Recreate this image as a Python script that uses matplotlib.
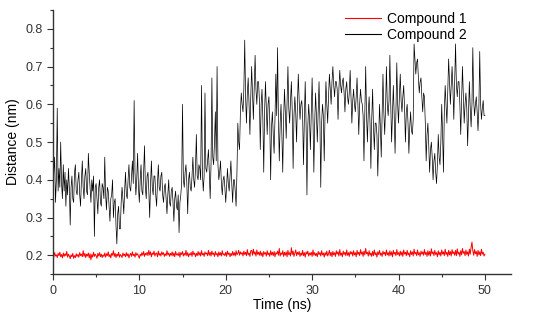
import numpy as np
import matplotlib
matplotlib.use("Agg")
from matplotlib import pyplot as plt
from matplotlib.ticker import MultipleLocator

# distance traces, every 0.1 ns (0 .. 50 ns)
dt = 0.1

compound1 = [
    0.203, 0.195, 0.207, 0.198, 0.201, 0.194, 0.205, 0.199, 0.208, 0.196,
    0.202, 0.193, 0.206, 0.197, 0.204, 0.199, 0.210, 0.195, 0.203, 0.198,
    0.191, 0.201, 0.196, 0.205, 0.192, 0.199, 0.194, 0.204, 0.197, 0.202,
    0.195, 0.207, 0.199, 0.203, 0.196, 0.212, 0.197, 0.205, 0.194, 0.203,
    0.198, 0.206, 0.193, 0.204, 0.188, 0.202, 0.195, 0.208, 0.197, 0.203,
    0.199, 0.192, 0.205, 0.198, 0.207, 0.196, 0.203, 0.194, 0.201, 0.197,
    0.206, 0.195, 0.204, 0.199, 0.209, 0.196, 0.202, 0.193, 0.205, 0.200,
    0.212, 0.197, 0.205, 0.194, 0.203, 0.198, 0.208, 0.195, 0.202, 0.199,
    0.194, 0.206, 0.199, 0.203, 0.196, 0.207, 0.198, 0.204, 0.193, 0.201,
    0.205, 0.197, 0.209, 0.199, 0.203, 0.195, 0.207, 0.200, 0.204, 0.198,
    0.192, 0.203, 0.198, 0.207, 0.200, 0.210, 0.197, 0.205, 0.201, 0.208,
    0.199, 0.213, 0.201, 0.209, 0.196, 0.206, 0.202, 0.211, 0.198, 0.205,
    0.206, 0.196, 0.211, 0.200, 0.205, 0.198, 0.209, 0.202, 0.207, 0.197,
    0.204, 0.199, 0.212, 0.201, 0.206, 0.197, 0.205, 0.200, 0.209, 0.198,
    0.206, 0.196, 0.210, 0.201, 0.204, 0.199, 0.208, 0.195, 0.207, 0.202,
    0.210, 0.198, 0.205, 0.200, 0.213, 0.199, 0.207, 0.196, 0.204, 0.201,
    0.208, 0.197, 0.211, 0.202, 0.206, 0.196, 0.205, 0.199, 0.210, 0.200,
    0.207, 0.198, 0.212, 0.201, 0.205, 0.197, 0.209, 0.203, 0.206, 0.199,
    0.213, 0.200, 0.208, 0.198, 0.211, 0.202, 0.206, 0.197, 0.210, 0.201,
    0.205, 0.196, 0.209, 0.200, 0.207, 0.198, 0.212, 0.201, 0.204, 0.199,
    0.208, 0.197, 0.211, 0.202, 0.206, 0.196, 0.205, 0.199, 0.210, 0.200,
    0.207, 0.198, 0.212, 0.201, 0.205, 0.213, 0.200, 0.209, 0.203, 0.207,
    0.198, 0.211, 0.202, 0.208, 0.199, 0.215, 0.201, 0.206, 0.197, 0.212,
    0.213, 0.200, 0.216, 0.203, 0.209, 0.198, 0.214, 0.202, 0.208, 0.200,
    0.211, 0.199, 0.207, 0.196, 0.210, 0.203, 0.207, 0.198, 0.212, 0.201,
    0.206, 0.197, 0.212, 0.201, 0.208, 0.199, 0.210, 0.196, 0.207, 0.203,
    0.211, 0.200, 0.218, 0.198, 0.206, 0.202, 0.212, 0.197, 0.208, 0.200,
    0.209, 0.196, 0.213, 0.201, 0.207, 0.198, 0.220, 0.202, 0.211, 0.197,
    0.205, 0.214, 0.199, 0.208, 0.202, 0.210, 0.197, 0.206, 0.200, 0.213,
    0.199, 0.207, 0.195, 0.209, 0.203, 0.211, 0.198, 0.206, 0.201, 0.208,
    0.197, 0.214, 0.200, 0.207, 0.199, 0.205, 0.196, 0.210, 0.202, 0.207,
    0.198, 0.212, 0.201, 0.206, 0.195, 0.207, 0.200, 0.211, 0.198, 0.204,
    0.213, 0.199, 0.208, 0.196, 0.210, 0.201, 0.207, 0.197, 0.212, 0.203,
    0.209, 0.198, 0.215, 0.200, 0.206, 0.196, 0.211, 0.202, 0.208, 0.199,
    0.214, 0.200, 0.207, 0.197, 0.210, 0.203, 0.209, 0.198, 0.212, 0.201,
    0.207, 0.196, 0.213, 0.202, 0.208, 0.199, 0.215, 0.203, 0.209, 0.197,
    0.211, 0.201, 0.218, 0.204, 0.208, 0.198, 0.212, 0.200, 0.206, 0.197,
    0.210, 0.199, 0.214, 0.201, 0.207, 0.195, 0.209, 0.202, 0.213, 0.200,
    0.206, 0.197, 0.211, 0.203, 0.208, 0.199, 0.214, 0.201, 0.207, 0.198,
    0.212, 0.200, 0.209, 0.196, 0.213, 0.203, 0.208, 0.199, 0.215, 0.202,
    0.207, 0.198, 0.211, 0.200, 0.209, 0.197, 0.214, 0.203, 0.208, 0.199,
    0.213, 0.201, 0.206, 0.196, 0.212, 0.202, 0.209, 0.198, 0.216, 0.203,
    0.208, 0.199, 0.214, 0.201, 0.207, 0.197, 0.211, 0.203, 0.209, 0.200,
    0.215, 0.202, 0.208, 0.197, 0.212, 0.200, 0.210, 0.198, 0.217, 0.204,
    0.209, 0.199, 0.213, 0.202, 0.207, 0.196, 0.212, 0.201, 0.208, 0.198,
    0.214, 0.203, 0.209, 0.199, 0.216, 0.202, 0.208, 0.197, 0.213, 0.201,
    0.210, 0.198, 0.215, 0.204, 0.209, 0.200, 0.213, 0.199, 0.217, 0.203,
    0.208, 0.197, 0.212, 0.201, 0.218, 0.205, 0.210, 0.199, 0.214, 0.202,
    0.209, 0.198, 0.216, 0.203, 0.221, 0.235, 0.212, 0.200, 0.215, 0.204,
    0.210, 0.197, 0.213, 0.201, 0.209, 0.199, 0.216, 0.203, 0.208, 0.198,
    0.203,
]

compound2 = [
    0.36, 0.42, 0.46, 0.34, 0.40, 0.59, 0.37, 0.43, 0.38, 0.50,
    0.39, 0.35, 0.44, 0.37, 0.42, 0.33, 0.40, 0.36, 0.43, 0.38,
    0.28, 0.38, 0.41, 0.35, 0.34, 0.42, 0.44, 0.37, 0.36, 0.40,
    0.42, 0.36, 0.33, 0.40, 0.45, 0.38, 0.35, 0.41, 0.43, 0.37,
    0.36, 0.47, 0.42, 0.38, 0.34, 0.40, 0.37, 0.41, 0.25, 0.38,
    0.39, 0.35, 0.31, 0.38, 0.40, 0.34, 0.33, 0.39, 0.38, 0.35,
    0.46, 0.36, 0.32, 0.38, 0.37, 0.33, 0.29, 0.35, 0.36, 0.40,
    0.30, 0.34, 0.35, 0.28, 0.23, 0.31, 0.33, 0.27, 0.27, 0.34,
    0.38, 0.35, 0.31, 0.37, 0.42, 0.36, 0.35, 0.40, 0.44, 0.38,
    0.37, 0.41, 0.45, 0.39, 0.61, 0.42, 0.36, 0.40, 0.47, 0.38,
    0.34, 0.40, 0.44, 0.37, 0.36, 0.42, 0.49, 0.38, 0.35, 0.41,
    0.42, 0.37, 0.30, 0.39, 0.45, 0.38, 0.36, 0.41, 0.41, 0.36,
    0.33, 0.39, 0.44, 0.38, 0.37, 0.41, 0.42, 0.36, 0.34, 0.38,
    0.39, 0.35, 0.31, 0.36, 0.40, 0.34, 0.33, 0.37, 0.38, 0.34,
    0.29, 0.35, 0.37, 0.33, 0.32, 0.36, 0.26, 0.34, 0.36, 0.39,
    0.60, 0.40, 0.38, 0.42, 0.44, 0.39, 0.31, 0.40, 0.42, 0.38,
    0.37, 0.41, 0.46, 0.40, 0.38, 0.43, 0.52, 0.41, 0.40, 0.44,
    0.43, 0.40, 0.65, 0.42, 0.37, 0.41, 0.63, 0.43, 0.42, 0.45,
    0.48, 0.42, 0.35, 0.44, 0.67, 0.46, 0.44, 0.50, 0.58, 0.45,
    0.70, 0.44, 0.40, 0.42, 0.45, 0.39, 0.36, 0.40, 0.41, 0.38,
    0.34, 0.38, 0.43, 0.39, 0.37, 0.41, 0.45, 0.39, 0.34, 0.40,
    0.40, 0.37, 0.33, 0.42, 0.55, 0.50, 0.48, 0.58, 0.63, 0.60,
    0.58, 0.64, 0.77, 0.62, 0.55, 0.63, 0.67, 0.60, 0.52, 0.62,
    0.70, 0.63, 0.56, 0.65, 0.73, 0.64, 0.60, 0.66, 0.66, 0.61,
    0.48, 0.60, 0.64, 0.56, 0.42, 0.58, 0.66, 0.59, 0.52, 0.60,
    0.62, 0.55, 0.40, 0.54, 0.58, 0.52, 0.47, 0.56, 0.68, 0.57,
    0.75, 0.56, 0.45, 0.55, 0.60, 0.52, 0.42, 0.56, 0.64, 0.58,
    0.51, 0.60, 0.70, 0.59, 0.55, 0.61, 0.66, 0.58, 0.43, 0.57,
    0.62, 0.58, 0.50, 0.60, 0.68, 0.61, 0.56, 0.60, 0.61, 0.57,
    0.44, 0.56, 0.66, 0.55, 0.36, 0.54, 0.60, 0.56, 0.48, 0.57,
    0.67, 0.56, 0.42, 0.55, 0.63, 0.57, 0.50, 0.58, 0.66, 0.56,
    0.38, 0.55, 0.60, 0.57, 0.45, 0.58, 0.66, 0.60, 0.55, 0.62,
    0.68, 0.64, 0.60, 0.66, 0.70, 0.65, 0.62, 0.66, 0.66, 0.64,
    0.56, 0.64, 0.69, 0.65, 0.63, 0.66, 0.67, 0.63, 0.58, 0.64,
    0.66, 0.62, 0.60, 0.63, 0.69, 0.62, 0.55, 0.61, 0.64, 0.60,
    0.58, 0.62, 0.67, 0.60, 0.52, 0.60, 0.64, 0.61, 0.60, 0.57,
    0.45, 0.58, 0.70, 0.57, 0.50, 0.58, 0.62, 0.55, 0.43, 0.56,
    0.64, 0.54, 0.48, 0.55, 0.55, 0.52, 0.41, 0.50, 0.60, 0.54,
    0.46, 0.57, 0.68, 0.58, 0.52, 0.59, 0.70, 0.60, 0.57, 0.61,
    0.73, 0.60, 0.50, 0.58, 0.65, 0.57, 0.47, 0.58, 0.71, 0.60,
    0.55, 0.62, 0.68, 0.61, 0.58, 0.62, 0.65, 0.59, 0.50, 0.58,
    0.60, 0.55, 0.47, 0.54, 0.58, 0.53, 0.52, 0.56, 0.76, 0.72,
    0.68, 0.71, 0.72, 0.67, 0.63, 0.66, 0.67, 0.62, 0.58, 0.63,
    0.62, 0.55, 0.45, 0.52, 0.55, 0.49, 0.42, 0.48, 0.50, 0.46,
    0.40, 0.45, 0.47, 0.42, 0.39, 0.44, 0.52, 0.46, 0.44, 0.50,
    0.60, 0.52, 0.42, 0.58, 0.65, 0.60, 0.55, 0.64, 0.72, 0.66,
    0.60, 0.65, 0.70, 0.64, 0.56, 0.66, 0.76, 0.65, 0.62, 0.66,
    0.66, 0.60, 0.52, 0.61, 0.70, 0.62, 0.55, 0.60, 0.63, 0.59,
    0.49, 0.58, 0.66, 0.59, 0.54, 0.60, 0.75, 0.61, 0.57, 0.60,
    0.62, 0.58, 0.53, 0.59, 0.74, 0.60, 0.56, 0.59, 0.61, 0.57,
    0.57,
]

time = np.arange(len(compound2)) * dt

plt.rcParams['font.family'] = ['Liberation Sans', 'DejaVu Sans']

fig = plt.figure(figsize=(5.4, 3.21), dpi=100)
ax = fig.add_axes([0.098, 0.146, 0.848, 0.823])

ax.plot(time, compound1, color='#ff0000', lw=0.7, label='Compound 1')
ax.plot(time, compound2, color='black', lw=0.5, label='Compound 2')

ax.set_xlim(0, 53)
ax.set_ylim(0.15, 0.85)
ax.xaxis.set_major_locator(MultipleLocator(10))
ax.xaxis.set_minor_locator(MultipleLocator(5))
ax.yaxis.set_major_locator(MultipleLocator(0.1))
ax.yaxis.set_minor_locator(MultipleLocator(0.05))
ax.set_xticks([0, 10, 20, 30, 40, 50])
ax.set_yticks([0.2, 0.3, 0.4, 0.5, 0.6, 0.7, 0.8])

for s in ['top', 'right']:
    ax.spines[s].set_visible(False)
for s in ['left', 'bottom']:
    ax.spines[s].set_linewidth(1.0)
    ax.spines[s].set_color('#333333')

ax.tick_params(which='major', direction='out', length=4, width=0.8,
               labelsize=9, colors='#333333')
ax.tick_params(which='minor', direction='out', length=2, width=0.8,
               colors='#333333')

ax.set_xlabel('Time (ns)', fontsize=10, labelpad=1)
ax.set_ylabel('Distance (nm)', fontsize=10, labelpad=4)

leg = ax.legend(loc='upper right', bbox_to_anchor=(0.93, 1.04), frameon=False,
                fontsize=10, handlelength=2.6, handletextpad=0.4,
                labelspacing=0.15)
for line in leg.get_lines():
    line.set_linewidth(0.8)

fig.savefig('out.png', dpi=100)
